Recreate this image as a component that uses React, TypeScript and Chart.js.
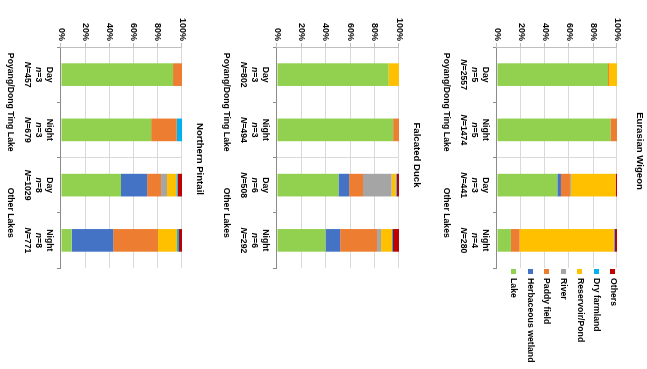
import React, { useEffect, useRef } from "react";
import { Chart, registerables } from "chart.js";
Chart.register(...registerables);

// ---------- data ----------
const categories = ["Day", "Night", "Day", "Night"];
const groups = ["Poyang/Dong Ting Lake", "Other Lakes"];
const seriesNames = ["Lake", "Herbaceous wetland", "Paddy field", "River", "Reservoir/Pond", "Dry farmland", "Others"];
const seriesColors = ["#92D050", "#4472C4", "#ED7D31", "#A5A5A5", "#FFC000", "#00B0F0", "#C00000"];
const yTickStep = 20;
const yMax = 100;

const wigeonTitle = "Eurasian Wigeon";
const wigeonSmallN = [5, 5, 3, 4];
const wigeonBigN = [2557, 1474, 441, 280];
const wigeonLake = [92.5, 94.5, 50.3, 11.6];
const wigeonHerb = [0, 0, 3.0, 0];
const wigeonPaddy = [0.8, 5.5, 7.5, 7.2];
const wigeonRiver = [0, 0, 0.8, 0];
const wigeonReservoir = [6.7, 0, 37.3, 78.4];
const wigeonDry = [0, 0, 0, 0.8];
const wigeonOthers = [0, 0, 1.1, 2.0];

const falcatedTitle = "Falcated Duck";
const falcatedSmallN = [3, 3, 6, 6];
const falcatedBigN = [802, 494, 508, 292];
const falcatedLake = [91.3, 95.2, 50.4, 39.8];
const falcatedHerb = [0, 0, 8.7, 12.0];
const falcatedPaddy = [0, 4.8, 11.4, 30.2];
const falcatedRiver = [0, 0, 23.4, 3.3];
const falcatedReservoir = [8.7, 0, 3.3, 9.0];
const falcatedDry = [0, 0, 0.8, 0.8];
const falcatedOthers = [0, 0, 2.0, 4.9];

const pintailTitle = "Northern Pintail";
const pintailSmallN = [3, 3, 8, 8];
const pintailBigN = [457, 679, 1029, 771];
const pintailLake = [92.6, 74.5, 49.5, 8.8];
const pintailHerb = [0, 0, 21.7, 34.3];
const pintailPaddy = [7.4, 21.2, 11.5, 37.1];
const pintailRiver = [0, 0, 4.9, 0];
const pintailReservoir = [0, 0, 7.7, 15.7];
const pintailDry = [0, 4.3, 1.1, 1.6];
const pintailOthers = [0, 0, 3.6, 2.5];

// ---------- layout (in unrotated frame: 369 wide x 647 tall) ----------
const FONT = "'Liberation Sans', Arial, Helvetica, sans-serif";
const FRAME_W = 369;
const FRAME_H = 647;
const PLOT_LEFT = 47;
const PLOT_RIGHT = 268;
const PLOT_TOP = 30;

const panels = [
  {
    title: wigeonTitle, smallN: wigeonSmallN, bigN: wigeonBigN,
    values: [wigeonLake, wigeonHerb, wigeonPaddy, wigeonRiver, wigeonReservoir, wigeonDry, wigeonOthers],
    top: 0, height: 218, plotBottom: 150, titleX: 151, titleY: 7.5, legend: true,
  },
  {
    title: falcatedTitle, smallN: falcatedSmallN, bigN: falcatedBigN,
    values: [falcatedLake, falcatedHerb, falcatedPaddy, falcatedRiver, falcatedReservoir, falcatedDry, falcatedOthers],
    top: 218, height: 217, plotBottom: 152, titleX: 155, titleY: 12, legend: false,
  },
  {
    title: pintailTitle, smallN: pintailSmallN, bigN: pintailBigN,
    values: [pintailLake, pintailHerb, pintailPaddy, pintailRiver, pintailReservoir, pintailDry, pintailOthers],
    top: 435, height: 212, plotBottom: 151, titleX: 159, titleY: 12, legend: false,
  },
];

function drawMixed(ctx: CanvasRenderingContext2D, parts: [string, string][], cx: number, y: number) {
  let total = 0;
  const widths = parts.map(([t, f]) => {
    ctx.font = f;
    const w = ctx.measureText(t).width;
    total += w;
    return w;
  });
  let x = cx - total / 2;
  ctx.textAlign = "left";
  parts.forEach(([t, f], i) => {
    ctx.font = f;
    ctx.fillText(t, x, y);
    x += widths[i];
  });
}

function Panel({ p }: { p: any }) {
  const ref = useRef<HTMLCanvasElement>(null);
  useEffect(() => {
    if (!ref.current) return;
    const bold = `bold 8.7px ${FONT}`;
    const boldItalic = `italic bold 8.7px ${FONT}`;
    const labelPlugin = {
      id: "customLabels",
      afterDraw(chart: any) {
        const { ctx, chartArea } = chart;
        const xs = chart.scales.x;
        const b = chartArea.bottom;
        ctx.save();
        ctx.fillStyle = "#000";
        ctx.textBaseline = "middle";
        categories.forEach((c, i) => {
          const cx = xs.getPixelForValue(i);
          drawMixed(ctx, [[c, bold]], cx, b + 11.5);
          drawMixed(ctx, [["n", boldItalic], ["=" + p.smallN[i], bold]], cx, b + 22.5);
          drawMixed(ctx, [["N", boldItalic], ["=" + p.bigN[i], bold]], cx, b + 34);
        });
        groups.forEach((g, gi) => {
          const cx = (xs.getPixelForValue(gi * 2) + xs.getPixelForValue(gi * 2 + 1)) / 2;
          drawMixed(ctx, [[g, bold]], cx, b + 50.5);
        });
        drawMixed(ctx, [[p.title, `bold 9.6px ${FONT}`]], p.titleX, p.titleY);
        if (p.legend) {
          for (let k = 0; k < seriesNames.length; k++) {
            const idx = seriesNames.length - 1 - k;
            const y = 34 + k * 16.55;
            ctx.fillStyle = seriesColors[idx];
            ctx.fillRect(269, Math.round(y - 2.5), 5, 5);
            ctx.fillStyle = "#000";
            ctx.font = bold;
            ctx.textAlign = "left";
            ctx.fillText(seriesNames[idx], 278, y);
          }
        }
        ctx.restore();
      },
    };
    const chart = new Chart(ref.current, {
      type: "bar",
      data: {
        labels: categories,
        datasets: seriesNames.map((name, i) => ({
          label: name,
          data: p.values[i],
          backgroundColor: seriesColors[i],
          borderWidth: 0,
          barPercentage: 0.41,
          categoryPercentage: 1,
        })),
      },
      options: {
        animation: false,
        responsive: false,
        devicePixelRatio: 1,
        layout: { padding: { top: PLOT_TOP, left: 0, right: FRAME_W - PLOT_RIGHT, bottom: 0 } },
        plugins: { legend: { display: false }, tooltip: { enabled: false }, title: { display: false } },
        scales: {
          x: {
            stacked: true,
            grid: {
              offset: true,
              color: (c: any) => (c.index === 2 ? "#d9d9d9" : "rgba(0,0,0,0)"),
              tickColor: "#8c8c8c",
              tickLength: 4,
              drawTicks: true,
            },
            border: { color: "#8c8c8c" },
            ticks: { display: false },
            afterFit: (s: any) => {
              s.height = p.height - p.plotBottom;
            },
          },
          y: {
            stacked: true,
            min: 0,
            max: yMax,
            ticks: {
              stepSize: yTickStep,
              callback: (v: any) => v + "%",
              font: { family: FONT, size: 9, weight: "bold" },
              color: "#000",
              padding: 2,
            },
            grid: { color: "#d9d9d9", tickColor: "#bfbfbf", tickLength: 4 },
            border: { color: "#bfbfbf" },
            afterFit: (s: any) => {
              s.width = PLOT_LEFT;
            },
          },
        },
      },
      plugins: [labelPlugin],
    } as any);
    return () => chart.destroy();
  }, [p]);
  return (
    <canvas
      ref={ref}
      width={FRAME_W}
      height={p.height}
      style={{ position: "absolute", left: 0, top: p.top, width: FRAME_W, height: p.height }}
    />
  );
}

export default function App() {
  return (
    <div style={{ position: "fixed", left: 0, top: 0, width: 647, height: 369, background: "#fff", overflow: "hidden" }}>
      <div
        style={{
          position: "absolute",
          left: 0,
          top: 0,
          width: FRAME_W,
          height: FRAME_H,
          transformOrigin: "0 0",
          transform: `translate(${FRAME_H}px, 0px) rotate(90deg)`,
        }}
      >
        {panels.map((p, i) => (
          <Panel key={i} p={p} />
        ))}
      </div>
    </div>
  );
}
